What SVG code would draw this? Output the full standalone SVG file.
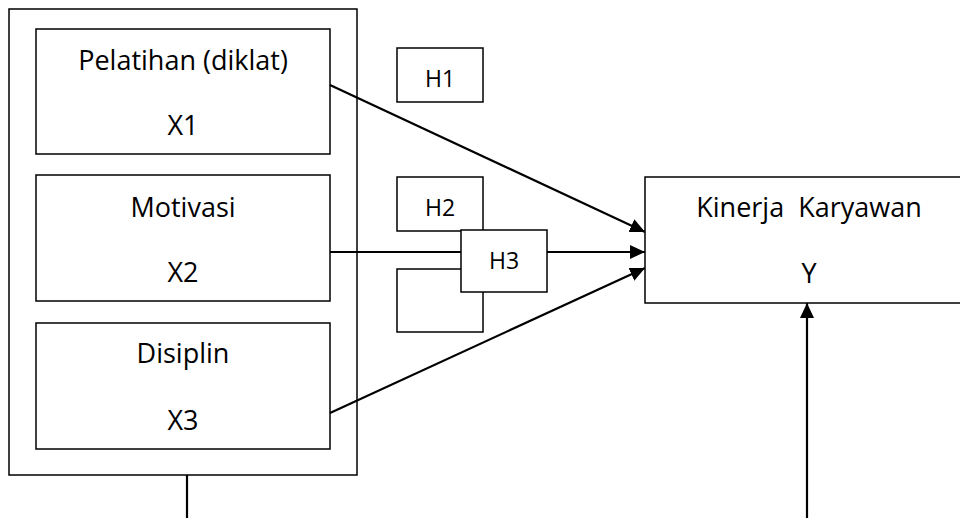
<svg xmlns="http://www.w3.org/2000/svg" width="960" height="518" viewBox="0 0 960 518">
<style>
.box{fill:#fff;stroke:#000;stroke-width:1.5}
.t{font-family:"Open Sans","Liberation Sans",sans-serif;font-size:27px;fill:#000;text-anchor:middle}
.h{font-family:"Open Sans","Liberation Sans",sans-serif;font-size:23px;fill:#000;text-anchor:middle}
.c{stroke:#000;stroke-width:2.2;fill:none}
</style>
<defs>
<marker id="arr" markerUnits="userSpaceOnUse" markerWidth="16" markerHeight="14" refX="15" refY="7" orient="auto">
<path d="M0,0 L15,7 L0,14 z" fill="#000"/>
</marker>
</defs>
<rect width="960" height="518" fill="#fff"/>
<g id="outer"><rect class="box" x="9" y="9" width="348" height="466"/></g>
<g id="x1"><rect class="box" x="36" y="29" width="294" height="125"/>
<text class="t" x="183" y="70">Pelatihan (diklat)</text><text class="t" x="183" y="135">X1</text></g>
<g id="x2"><rect class="box" x="36" y="175" width="294" height="126"/>
<text class="t" x="183" y="217">Motivasi</text><text class="t" x="183" y="282">X2</text></g>
<g id="x3"><rect class="box" x="36" y="323" width="294" height="126"/>
<text class="t" x="183" y="363">Disiplin</text><text class="t" x="183" y="430">X3</text></g>
<g id="h1"><rect class="box" x="397" y="48" width="86" height="54"/><text class="h" x="440" y="87">H1</text></g>
<g id="h2"><rect class="box" x="397" y="177" width="86" height="54"/><text class="h" x="440" y="216">H2</text></g>
<g id="hblank"><rect class="box" x="397" y="269" width="86" height="63"/></g>
<g id="connectors">
<line class="c" x1="330" y1="85" x2="645" y2="232" marker-end="url(#arr)"/>
<line class="c" x1="330" y1="252" x2="645" y2="252" marker-end="url(#arr)"/>
<line class="c" x1="330" y1="413" x2="645" y2="268" marker-end="url(#arr)"/>
<line class="c" x1="187" y1="475" x2="187" y2="518"/>
<line class="c" x1="807" y1="518" x2="807" y2="303" marker-end="url(#arr)"/>
</g>
<g id="h3"><rect class="box" x="461" y="230" width="86" height="62"/><text class="h" x="504" y="269">H3</text></g>
<g id="y"><rect class="box" x="645" y="177" width="330" height="126"/>
<text class="t" x="809" y="217" xml:space="preserve">Kinerja  Karyawan</text><text class="t" x="809" y="283">Y</text></g>
</svg>
